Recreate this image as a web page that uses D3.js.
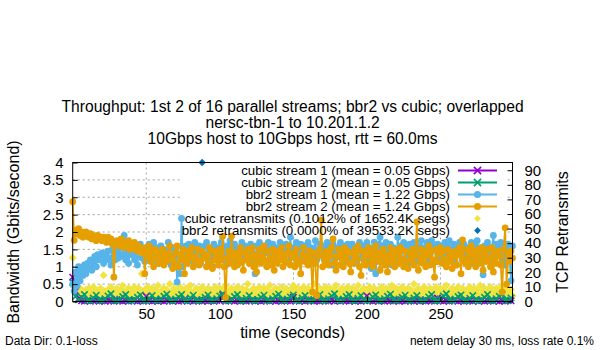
<!DOCTYPE html>
<html><head><meta charset="utf-8">
<script src="https://cdn.jsdelivr.net/npm/d3@7"></script>
<style>
body{margin:0;background:#fff}
svg{display:block}
text{font-family:"Liberation Sans",Arial,Helvetica,sans-serif;fill:#000}
</style>
</head><body>
<svg id="c" width="600" height="350"></svg>
<script>
// ---------- data ----------
// seconds between samples for each group of series (series start at t = 0)
const cubicStep = 2;
const bbrStep = 1;
const retransStep = 1;

const cubic1 = [
0.7,0.3,0.08,0.02,0.01,0.03,0.01,0.02,
0.04,0.01,0.02,0.01,0.03,0.02,0.01,0.05,
0.02,0.01,0.03,0.01,0.02,0.04,0.01,0.02,
0.01,0.15,0.02,0.01,0.03,0.01,0.02,0.01,
0.04,0.02,0.01,0.03,0.01,0.02,0.06,0.01,
0.02,0.01,0.03,0.02,0.01,0.04,0.01,0.02,
0.01,0.03,0.02,0.18,0.01,0.02,0.04,0.01,
0.02,0.01,0.03,0.01,0.02,0.05,0.01,0.02,
0.01,0.03,0.02,0.01,0.04,0.01,0.02,0.01,
0.03,0.02,0.01,0.12,0.02,0.01,0.03,0.01,
0.02,0.04,0.01,0.02,0.01,0.03,0.02,0.01,
0.05,0.01,0.02,0.01,0.03,0.02,0.01,0.04,
0.01,0.02,0.01,0.03,0.16,0.02,0.01,0.04,
0.01,0.02,0.01,0.03,0.02,0.01,0.05,0.01,
0.02,0.01,0.03,0.02,0.01,0.04,0.01,0.02,
0.01,0.03,0.02,0.01,0.1,0.02,0.01,0.03,
0.01,0.02,0.04,0.01,0.02,0.01,0.03,0.02,
0.01,0.05,0.01,0.02,0.01,0.03,0.02,0.01,
0.04,0.01,0.02,0.01,0.03,0.02];

const cubic2 = [
0.55,0.15,0.05,0.12,0.2,0.03,0.02,0.1,
0.18,0.04,0.02,0.08,0.16,0.22,0.03,0.02,
0.07,0.14,0.2,0.04,0.02,0.06,0.12,0.19,
0.03,0.02,0.09,0.17,0.05,0.02,0.08,0.15,
0.21,0.03,0.02,0.07,0.13,0.2,0.04,0.02,
0.1,0.18,0.03,0.02,0.06,0.12,0.19,0.04,
0.02,0.08,0.16,0.22,0.03,0.02,0.07,0.14,
0.2,0.03,0.02,0.09,0.17,0.04,0.02,0.06,
0.12,0.18,0.03,0.02,0.08,0.15,0.21,0.04,
0.02,0.07,0.13,0.19,0.03,0.02,0.1,0.17,
0.04,0.02,0.06,0.12,0.2,0.03,0.02,0.08,
0.16,0.22,0.04,0.02,0.07,0.14,0.2,0.03,
0.02,0.09,0.17,0.04,0.02,0.06,0.13,0.19,
0.03,0.02,0.08,0.15,0.21,0.04,0.02,0.07,
0.12,0.18,0.03,0.02,0.1,0.17,0.04,0.02,
0.06,0.13,0.2,0.03,0.02,0.08,0.16,0.22,
0.04,0.02,0.07,0.14,0.19,0.03,0.02,0.09,
0.17,0.04,0.02,0.06,0.12,0.2,0.03,0.02,
0.08,0.15,0.21,0.04,0.02,0.1];

const bbr1 = [
0.5,0.3,0.85,0.45,1.0,0.6,0.9,0.75,1.05,0.8,
1.1,0.95,1.2,0.9,1.15,1.3,1.0,1.35,1.2,1.25,
1.4,1.1,1.3,1.2,1.45,1.25,1.05,1.5,1.35,1.2,
1.45,1.25,1.55,1.3,1.35,1.9,1.2,1.5,1.1,1.4,
1.35,1.6,1.2,1.5,1.05,1.45,1.65,1.25,1.4,1.15,
1.55,1.3,1.65,1.2,1.45,1.7,1.35,1.55,1.1,1.4,
1.6,1.25,1.5,1.15,1.45,1.7,1.3,1.05,1.55,1.35,
1.5,0.56,1.35,0.8,2.39,1.0,1.3,1.6,1.2,1.65,
1.3,1.55,1.15,1.7,1.25,1.5,1.6,1.1,1.45,1.35,
1.6,1.7,1.2,1.5,1.35,1.0,1.65,1.4,1.25,1.55,
1.35,1.7,1.2,1.5,1.05,1.6,1.3,1.75,1.15,1.45,
1.65,1.25,1.55,1.1,1.45,1.7,1.3,1.6,1.2,1.5,
1.3,1.65,1.45,1.15,0.8,1.6,1.25,1.7,1.35,1.5,
1.2,1.6,1.4,1.7,1.1,1.5,1.65,1.3,1.55,1.15,
1.45,1.7,1.25,1.6,1.35,1.65,1.4,1.1,1.85,1.3,
1.55,1.25,1.7,1.15,1.5,1.65,1.3,1.6,1.2,1.45,
1.7,1.3,1.55,1.1,1.5,1.75,1.2,1.45,1.65,1.35,
1.6,1.2,1.45,1.7,1.3,1.55,1.05,1.65,1.4,1.25,
1.55,1.3,1.7,1.45,1.15,1.6,1.35,1.65,1.5,1.2,
1.65,1.3,1.55,1.1,1.45,1.7,1.25,1.6,1.35,1.5,
1.7,1.2,1.55,0.95,1.4,1.71,0.8,1.5,1.65,1.85,
1.3,1.6,1.15,1.7,1.45,1.25,1.65,1.05,1.55,1.4,
1.2,1.85,1.35,1.6,1.45,1.7,1.25,1.55,1.1,1.65,
1.5,1.3,1.7,1.15,1.6,1.45,1.25,1.75,1.35,1.55,
1.4,1.7,1.2,1.35,1.75,1.5,1.6,1.15,1.65,1.3,
1.6,1.45,1.2,1.7,1.3,1.55,1.75,1.25,1.5,1.65,
1.15,1.6,1.4,1.7,1.5,1.2,1.65,1.35,1.55,1.45,
1.3,1.7,1.1,1.6,1.45,1.75,1.25,1.55,1.35,0.77,
1.6,1.3,1.7,1.5,1.15,1.55,1.9,1.25,1.65,1.4,
1.55,1.7,1.2,1.6,1.05,1.45,1.65,1.3,0.6,1.6];

const bbr2 = [
2.87,1.76,2.05,1.95,2.1,1.9,2.0,1.85,1.95,2.0,
1.9,1.85,1.95,1.8,1.9,1.85,1.75,1.9,1.8,1.85,
1.75,1.85,1.8,1.7,1.85,1.75,1.8,1.65,0.7,1.7,
1.75,1.6,1.7,1.8,1.65,1.55,1.7,1.6,1.75,1.5,
1.6,1.55,1.7,1.5,1.45,1.6,1.55,1.4,1.5,0.8,
1.55,1.3,1.6,1.15,1.45,1.0,1.5,1.25,1.4,1.1,
1.2,1.5,1.05,1.4,1.15,1.35,1.6,1.25,0.95,1.1,
1.4,1.6,1.0,1.35,1.2,1.5,0.8,1.3,1.1,1.45,
1.25,1.55,1.0,1.3,1.2,1.5,1.05,1.15,1.45,1.25,
1.35,1.0,1.3,1.55,1.1,0.95,1.45,1.2,1.35,1.05,
1.5,1.2,1.88,1.0,0.12,1.25,1.45,1.1,1.88,1.3,
1.0,1.4,1.05,1.3,1.55,1.15,0.9,1.4,1.2,1.5,
1.1,1.3,1.55,1.0,1.35,0.85,1.25,1.5,1.1,1.3,
1.6,1.15,1.0,1.45,1.25,1.05,1.5,0.9,1.35,1.1,
1.45,1.2,1.55,1.0,1.35,1.15,1.4,1.6,1.05,1.3,
1.4,1.0,1.5,1.2,1.1,0.8,1.35,1.55,1.15,1.3,
1.05,1.45,1.2,0.27,1.4,1.1,0.17,1.3,1.5,2.34,
1.0,1.35,1.15,1.45,1.05,1.3,1.55,1.8,1.1,0.9,
1.3,1.5,1.05,1.4,1.0,1.55,1.2,1.45,1.1,0.85,
1.4,1.1,1.5,1.25,1.6,1.0,0.75,1.45,1.2,1.05,
1.35,1.55,1.1,1.45,1.0,1.3,1.6,1.15,1.4,0.9,
1.25,1.5,1.05,1.35,0.85,1.2,1.55,1.1,1.45,1.0,
1.3,1.5,1.1,1.55,1.2,1.0,1.45,1.15,0.95,1.4,
1.2,1.5,1.05,1.35,2.29,0.9,1.25,1.5,1.1,1.45,
1.0,1.35,1.6,1.05,1.45,1.2,0.7,1.5,1.15,1.4,
1.55,1.1,1.45,1.2,1.0,1.5,1.15,1.4,0.95,1.3,
1.45,1.05,1.35,1.55,0.8,1.77,1.2,1.1,1.5,1.0,
1.35,1.6,1.15,1.45,1.0,1.3,1.5,1.1,1.55,0.9,
1.4,1.15,1.5,1.25,1.0,1.55,0.85,1.4,1.1,1.45,
1.3,1.05,0.27,1.5,2.12,0.5,1.4,1.15,1.45,1.25];

// retransmits per second (right axis)
const cubicRetrans = [
30,10,6,8,4,9,5,7,3,8,
6,9,4,7,10,5,8,3,6,9,
5,18,7,4,8,6,10,3,7,5,
9,6,4,8,11,5,7,3,9,6,
8,4,10,6,5,9,7,19,4,8,
6,10,3,7,9,5,8,4,11,6,
7,3,9,5,8,6,12,4,7,9,
5,8,3,10,6,7,4,9,5,8,
11,6,4,7,9,3,8,5,10,6,
7,4,9,5,8,6,3,10,7,5,
9,4,8,6,11,3,7,5,9,6,
8,4,10,7,5,9,3,6,8,12,
5,7,4,9,6,8,3,10,5,7,
9,4,8,6,11,5,7,3,9,6,
8,5,10,4,7,9,6,3,8,5,
11,7,4,9,6,8,3,10,5,7,
9,4,8,6,12,5,7,3,9,6,
8,4,10,7,5,9,3,6,8,11,
5,7,4,9,6,8,3,10,5,7,
9,4,8,6,11,5,7,3,9,6,
8,5,10,4,7,9,6,3,8,5,
10,7,4,9,6,8,3,11,5,7,
9,4,8,6,10,5,7,3,9,6,
8,4,12,7,5,9,3,6,8,10,
5,7,4,9,6,8,3,10,5,7,
9,4,8,6,11,5,7,3,9,6,
8,5,10,4,7,9,6,3,8,5,
10,7,4,9,6,8,3,11,5,7,
9,4,8,6,10,5,7,3,9,6,
8,4,11,7,5,9,6,21,8,4];
const bbrRetransTimes = [88];
const bbrRetransValues = [95.3];

const xTicks = [50,100,150,200,250];
const yTicks = [0,0.5,1,1.5,2,2.5,3,3.5,4];
const y2Ticks = [0,10,20,30,40,50,60,70,80,90];
const titleLines = [
  "Throughput: 1st 2 of 16 parallel streams; bbr2 vs cubic; overlapped",
  "nersc-tbn-1 to 10.201.1.2",
  "10Gbps host to 10Gbps host, rtt = 60.0ms"];
const legendLabels = [
  "cubic stream 1 (mean = 0.05 Gbps)",
  "cubic stream 2 (mean = 0.05 Gbps)",
  "bbr2 stream 1 (mean = 1.22 Gbps)",
  "bbr2 stream 2 (mean = 1.24 Gbps)",
  "cubic retransmits (0.1012% of 1652.4K segs)",
  "bbr2 retransmits (0.0000% of 39533.2K segs)"];
const colors = ["#9400d3","#009e73","#56b4e9","#e69f00","#f0e442","#0072b2"];

// ---------- layout ----------
const L = 72.7, R = 512.5, T = 162.5, B = 301.5;
const svg = d3.select("#c");
const x = d3.scaleLinear().domain([0, 299]).range([L, R]);
const y = d3.scaleLinear().domain([0, 4]).range([B, T]);
const y2 = d3.scaleLinear().domain([0, 95.3]).range([B, T]);

// grid
const grid = svg.append("g").attr("stroke","#a0a0a0").attr("stroke-width",1).attr("stroke-dasharray","2,3");
xTicks.forEach(t => grid.append("line").attr("x1",x(t)).attr("x2",x(t)).attr("y1",T).attr("y2",B));
yTicks.filter(v => v>0 && v<4).forEach(v => grid.append("line").attr("x1",L).attr("x2",R).attr("y1",y(v)).attr("y2",y(v)));

// opaque key background
svg.append("rect").attr("x",180).attr("y",T+0.5).attr("width",325).attr("height",74).attr("fill","#fff");

const pts = (arr, step) => arr.map((v,i)=>[i*step, v]);

function diamond(g, cx, cy, color, s){
  g.append("path").attr("d",`M${cx},${cy-s}L${cx+s},${cy}L${cx},${cy+s}L${cx-s},${cy}Z`).attr("fill",color);
}
function cross(g, cx, cy, color, s){
  g.append("path").attr("d",`M${cx-s},${cy-s}L${cx+s},${cy+s}M${cx-s},${cy+s}L${cx+s},${cy-s}`)
   .attr("stroke",color).attr("stroke-width",1.6).attr("fill","none");
}

// retransmits (right axis)
const gr = svg.append("g");
pts(cubicRetrans, retransStep).forEach(([t,v]) => diamond(gr, x(t), y2(v), colors[4], 4));
bbrRetransTimes.forEach((t,i) => diamond(gr, x(t), y2(bbrRetransValues[i]), colors[5], 3.8));

// throughput series
const line = d3.line().x(d=>x(d[0])).y(d=>y(d[1]));
function series(arr, step, color, marker){
  const g = svg.append("g");
  const p = pts(arr, step);
  g.append("path").attr("d", line(p)).attr("fill","none").attr("stroke",color).attr("stroke-width",1.8);
  p.forEach(([t,v]) => {
    if (marker === "x") cross(g, x(t), y(v), color, 3.2);
    else g.append("circle").attr("cx",x(t)).attr("cy",y(v)).attr("r",3.4).attr("fill",color);
  });
}
series(cubic1, cubicStep, colors[0], "x");
series(cubic2, cubicStep, colors[1], "x");
series(bbr1, bbrStep, colors[2], "o");
series(bbr2, bbrStep, colors[3], "o");

// frame
svg.append("rect").attr("x",L).attr("y",T).attr("width",R-L).attr("height",B-T)
  .attr("fill","none").attr("stroke","#000").attr("stroke-width",1);

// axes
const ax = svg.append("g").attr("transform",`translate(0,${B})`)
  .call(d3.axisBottom(x).tickValues(xTicks).tickSize(-5).tickPadding(7).tickFormat(d3.format("d")));
const ay = svg.append("g").attr("transform",`translate(${L},0)`)
  .call(d3.axisLeft(y).tickValues(yTicks).tickSize(-5).tickPadding(9).tickFormat(d=>String(d)));
const ay2 = svg.append("g").attr("transform",`translate(${R},0)`)
  .call(d3.axisRight(y2).tickValues(y2Ticks).tickSize(-5).tickPadding(12).tickFormat(d3.format("d")));
[ax,ay,ay2].forEach(a => {
  a.select(".domain").remove();
  a.selectAll(".tick line").attr("stroke","#000");
  a.selectAll(".tick text").style("font-size","15px").attr("fill","#000")
   .style("font-family",'"Liberation Sans",Arial,sans-serif');
});

// legend
const lg = svg.append("g");
legendLabels.forEach((lab,i) => {
  const cy = 170.5 + i*12;
  lg.append("text").attr("x",450).attr("y",cy).attr("dy","0.35em").attr("text-anchor","end")
    .style("font-size","13.3px").text(lab);
  const mx = 477.5;
  if (i < 4) {
    lg.append("line").attr("x1",458).attr("x2",497).attr("y1",cy).attr("y2",cy)
      .attr("stroke",colors[i]).attr("stroke-width",2);
    if (i < 2) cross(lg, mx, cy, colors[i], 3.6);
    else lg.append("circle").attr("cx",mx).attr("cy",cy).attr("r",3.6).attr("fill",colors[i]);
  } else {
    diamond(lg, mx, cy, colors[i], 3.4);
  }
});

// titles and labels
titleLines.forEach((s,i) => svg.append("text").attr("x",(L+R)/2).attr("y",112+i*16)
  .attr("text-anchor","middle").style("font-size","15.6px").text(s));
svg.append("text").attr("transform",`translate(19,${(T+B)/2}) rotate(-90)`).attr("text-anchor","middle")
  .style("font-size","16px").text("Bandwidth (Gbits/second)");
svg.append("text").attr("transform",`translate(568,${(T+B)/2}) rotate(-90)`).attr("text-anchor","middle")
  .style("font-size","16px").text("TCP Retransmits");
svg.append("text").attr("x",(L+R)/2).attr("y",338).attr("text-anchor","middle")
  .style("font-size","16px").text("time (seconds)");
svg.append("text").attr("x",5).attr("y",345).style("font-size","12px").text("Data Dir: 0.1-loss");
svg.append("text").attr("x",594).attr("y",345).attr("text-anchor","end").style("font-size","12px")
  .text("netem delay 30 ms, loss rate 0.1%");
</script>
</body></html>
